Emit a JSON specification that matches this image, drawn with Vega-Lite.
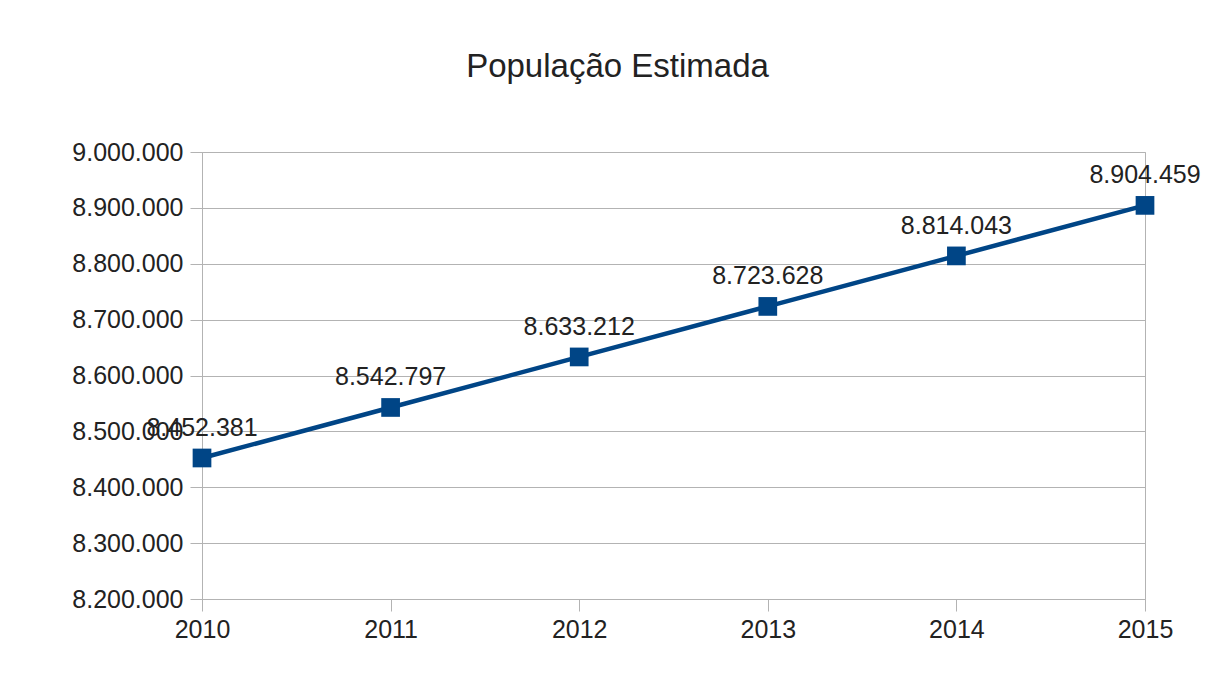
{
  "$schema": "https://vega.github.io/schema/vega-lite/v6.json",
  "autosize": {"type": "none"},
  "padding": {"left": 202, "top": 152, "right": 71, "bottom": 82},
  "width": 943,
  "height": 447,
  "background": "white",
  "config": {
    "locale": {"number": {"decimal": ",", "thousands": ".", "grouping": [3], "currency": ["R$", ""]}},
    "font": "Liberation Sans",
    "view": {"stroke": "#b3b3b3", "strokeWidth": 1},
    "axis": {
      "labelFont": "Liberation Sans",
      "labelFontSize": 25,
      "labelColor": "#222222",
      "domainColor": "#b3b3b3",
      "tickColor": "#b3b3b3",
      "gridColor": "#b3b3b3",
      "tickSize": 12,
      "title": null
    }
  },
  "title": {
    "text": "População Estimada",
    "fontSize": 33,
    "font": "Liberation Sans",
    "fontWeight": "normal",
    "color": "#222222",
    "anchor": "middle",
    "baseline": "alphabetic",
    "dx": -56,
    "offset": 30
  },
  "data": {
    "values": [
      {"ano": "2010", "populacao": 8452381},
      {"ano": "2011", "populacao": 8542797},
      {"ano": "2012", "populacao": 8633212},
      {"ano": "2013", "populacao": 8723628},
      {"ano": "2014", "populacao": 8814043},
      {"ano": "2015", "populacao": 8904459}
    ]
  },
  "encoding": {
    "x": {
      "field": "ano",
      "type": "ordinal",
      "scale": {"type": "point", "padding": 0},
      "axis": {"labelAngle": 0, "grid": false, "labelPadding": 6, "labelBaseline": "top"}
    },
    "y": {
      "field": "populacao",
      "type": "quantitative",
      "scale": {"domain": [8200000, 9000000], "nice": false, "zero": false},
      "axis": {
        "values": [8200000, 8300000, 8400000, 8500000, 8600000, 8700000, 8800000, 8900000, 9000000],
        "format": ",d",
        "grid": true,
        "labelPadding": 7
      }
    }
  },
  "layer": [
    {"mark": {"type": "line", "color": "#004586", "strokeWidth": 4.5}},
    {"mark": {"type": "point", "shape": "square", "filled": true, "opacity": 1, "color": "#004586", "size": 350}},
    {
      "mark": {"type": "text", "fontSize": 25, "font": "Liberation Sans", "color": "#222222", "baseline": "alphabetic", "dy": -22},
      "encoding": {"text": {"field": "populacao", "type": "quantitative", "format": ",d"}}
    }
  ]
}
